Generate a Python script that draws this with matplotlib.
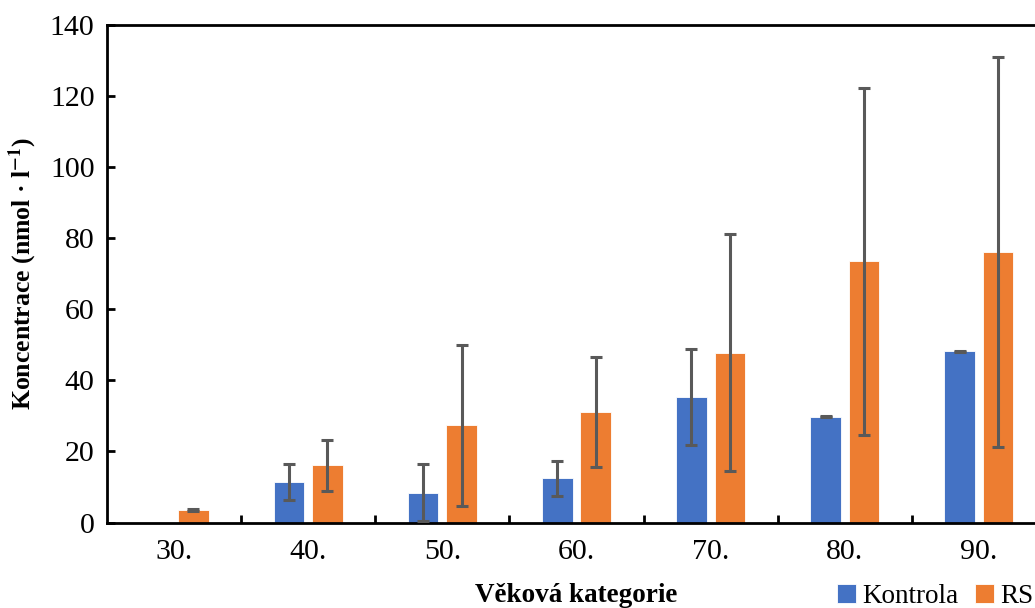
import numpy as np
import matplotlib
matplotlib.use("Agg")
import matplotlib.pyplot as plt

plt.rcParams['font.family'] = ['Liberation Serif', 'DejaVu Serif']
plt.rcParams['mathtext.fontset'] = 'stix'

# data
kategorie = ['30.', '40.', '50.', '60.', '70.', '80.', '90.']
kontrola = [np.nan, 11.4, 8.4, 12.4, 35.3, 29.8, 48.2]
kontrola_err = [np.nan, 5.1, 8.0, 5.0, 13.4, 0.2, 0.2]
rs = [3.5, 16.1, 27.3, 31.2, 47.8, 73.5, 76.1]
rs_err = [0.3, 7.2, 22.7, 15.5, 33.3, 48.8, 54.9]

modra = '#4472C4'
oranzova = '#ED7D31'
seda = '#595959'

fig = plt.figure(figsize=(10.35, 6.08), dpi=100)
ax = fig.add_axes([0.1034, 0.1406, 1.0106 - 0.1034, 0.9589 - 0.1406])

x = np.arange(len(kategorie))
w = 0.228
off = 0.143
ax.bar(x - off, kontrola, w, color=modra, edgecolor='white', linewidth=0.6, label='Kontrola', zorder=2)
ax.bar(x + off, rs, w, color=oranzova, edgecolor='white', linewidth=0.6, label='RS', zorder=2)
ax.errorbar(x - off, kontrola, yerr=kontrola_err, fmt='none', ecolor=seda, elinewidth=2.2,
            capsize=4.5, capthick=2.2, zorder=3)
ax.errorbar(x + off, rs, yerr=rs_err, fmt='none', ecolor=seda, elinewidth=2.2,
            capsize=4.5, capthick=2.2, zorder=3)

ax.set_xlim(-0.5, len(kategorie) - 0.5)
ax.set_ylim(0, 140)
ax.set_yticks(np.arange(0, 141, 20))
ax.set_xticks(x)
ax.set_xticklabels(kategorie)
ax.set_xticks(np.arange(0.5, len(kategorie) - 0.5, 1), minor=True)
ax.tick_params(axis='x', which='major', length=0, pad=12, labelsize=21.5)
ax.tick_params(axis='x', which='minor', direction='in', length=6, width=2)
ax.tick_params(axis='y', direction='in', length=6, width=2, pad=9, labelsize=21.5, right=False)
for s in ax.spines.values():
    s.set_linewidth(2)

ax.set_xlabel('Věková kategorie', fontsize=19.5, fontweight='bold', labelpad=13)
ax.set_ylabel(r'Koncentrace (nmol · l$^{\mathbf{-1}}$)', fontsize=18.5, fontweight='bold', labelpad=8)

fig.legend(loc='lower right', bbox_to_anchor=(1.0, -0.004), ncol=2, frameon=False, fontsize=19.5,
           handlelength=0.7, handleheight=0.7, handletextpad=0.25, columnspacing=0.6,
           borderpad=0.05, borderaxespad=0)

plt.savefig('out.png', dpi=100)
plt.close()
